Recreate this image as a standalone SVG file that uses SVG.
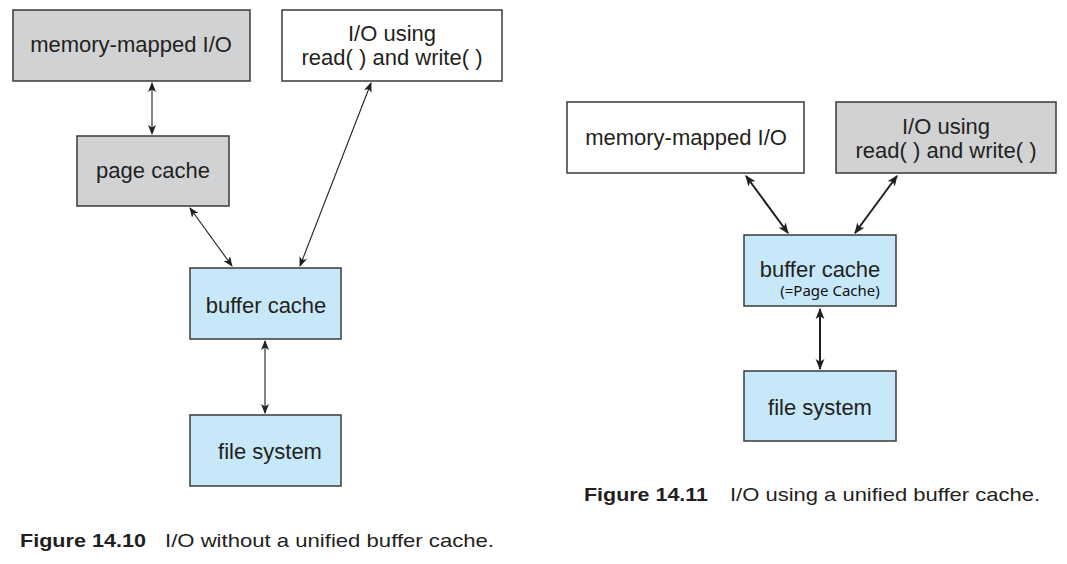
<svg xmlns="http://www.w3.org/2000/svg" width="1067" height="564" viewBox="0 0 1067 564">
<style>
.box{stroke:#3a3a3a;stroke-width:1.5}
.gray{fill:#d1d2d4}
.white{fill:#ffffff}
.blue{fill:#c7e8f8}
.t{font-family:"Liberation Sans",Arial,sans-serif;font-size:22px;fill:#231f20;text-anchor:middle}
.s{font-family:"Noto Sans","DejaVu Sans",sans-serif;font-size:15px;fill:#111;text-anchor:middle}
.cap{font-family:"Liberation Sans",Arial,sans-serif;font-size:19px;fill:#231f20}
.thin{stroke:#231f20;stroke-width:1.1;fill:none;marker-start:url(#a);marker-end:url(#a)}
.thick{stroke:#231f20;stroke-width:2;fill:none;marker-start:url(#b);marker-end:url(#b)}
</style>
<defs>
<marker id="a" viewBox="0 0 10 10" refX="9" refY="5" markerWidth="10" markerHeight="10" markerUnits="userSpaceOnUse" orient="auto-start-reverse">
<path d="M0,1 L10,5 L0,9 L2.5,5 Z" fill="#231f20"/>
</marker>
<marker id="b" viewBox="0 0 10 10" refX="9" refY="5" markerWidth="11" markerHeight="11" markerUnits="userSpaceOnUse" orient="auto-start-reverse">
<path d="M0,1 L10,5 L0,9 L2.5,5 Z" fill="#231f20"/>
</marker>
</defs>
<rect width="1067" height="564" fill="#ffffff"/>

<g id="connectors">
<line class="thin" x1="152" y1="83" x2="152" y2="134"/>
<line class="thin" x1="190" y1="208" x2="232" y2="266"/>
<line class="thin" x1="371" y1="83" x2="300" y2="266"/>
<line class="thin" x1="265" y1="341" x2="265" y2="413"/>
<line class="thick" x1="746" y1="176" x2="788" y2="233"/>
<line class="thick" x1="897" y1="176" x2="855" y2="233"/>
<line class="thick" x1="820" y1="309" x2="820" y2="369"/>
</g>

<g id="l-mmio">
<rect class="box gray" x="13" y="10" width="237" height="71"/>
<text class="t" x="131" y="52">memory-mapped I/O</text>
</g>
<g id="l-rw">
<rect class="box white" x="282" y="10" width="220" height="71"/>
<text class="t" x="392" y="41">I/O using</text>
<text class="t" x="392" y="65">read( ) and write( )</text>
</g>
<g id="l-page">
<rect class="box gray" x="77" y="136" width="152" height="70"/>
<text class="t" x="153" y="178">page cache</text>
</g>
<g id="l-buffer">
<rect class="box blue" x="190" y="268" width="151" height="71"/>
<text class="t" x="266" y="313">buffer cache</text>
</g>
<g id="l-fs">
<rect class="box blue" x="190" y="415" width="151" height="71"/>
<text class="t" x="270" y="459">file system</text>
</g>

<g id="r-mmio">
<rect class="box white" x="567" y="102" width="237" height="71"/>
<text class="t" x="686" y="145">memory-mapped I/O</text>
</g>
<g id="r-rw">
<rect class="box gray" x="836" y="102" width="220" height="71"/>
<text class="t" x="946" y="134">I/O using</text>
<text class="t" x="946" y="158">read( ) and write( )</text>
</g>
<g id="r-buffer">
<rect class="box blue" x="744" y="235" width="152" height="71"/>
<text class="t" x="820" y="277">buffer cache</text>
<text class="s" x="830" y="296">(=Page Cache)</text>
</g>
<g id="r-fs">
<rect class="box blue" x="744" y="371" width="152" height="70"/>
<text class="t" x="820" y="415">file system</text>
</g>

<text class="cap" x="584" y="501"><tspan font-weight="bold" textLength="124" lengthAdjust="spacingAndGlyphs">Figure 14.11</tspan></text>
<text class="cap" x="730" y="501" textLength="310" lengthAdjust="spacingAndGlyphs">I/O using a unified buffer cache.</text>
<text class="cap" x="20" y="547"><tspan font-weight="bold" textLength="126" lengthAdjust="spacingAndGlyphs">Figure 14.10</tspan></text>
<text class="cap" x="165" y="547" textLength="329" lengthAdjust="spacingAndGlyphs">I/O without a unified buffer cache.</text>
</svg>
